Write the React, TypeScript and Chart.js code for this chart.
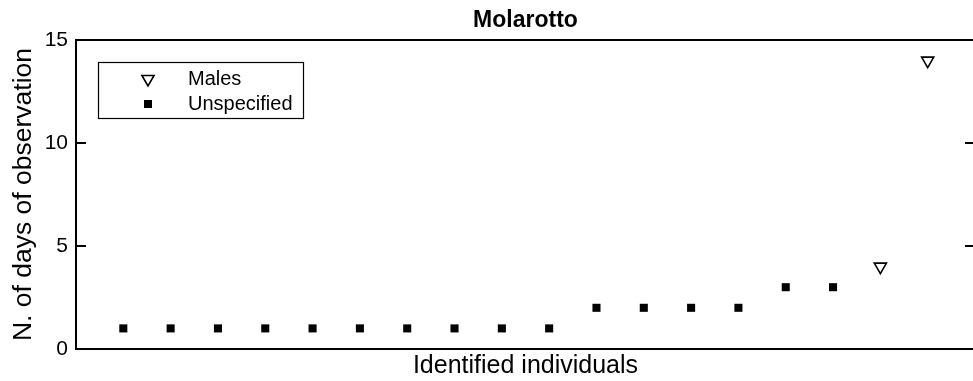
import { useEffect, useRef } from "react";
import { Chart, registerables } from "chart.js";
import { drawPoint } from "chart.js/helpers";

Chart.register(...registerables);

const chartTitle = "Molarotto";
const xAxisTitle = "Identified individuals";
const yAxisTitle = "N. of days of observation";
const yTickValues = [0, 5, 10, 15];

const maleLabel = "Males";
const maleIndividuals = [17, 18];
const maleDays = [4, 14];

const unspecifiedLabel = "Unspecified";
const unspecifiedIndividuals = [1, 2, 3, 4, 5, 6, 7, 8, 9, 10, 11, 12, 13, 14, 15, 16];
const unspecifiedDays = [1, 1, 1, 1, 1, 1, 1, 1, 1, 1, 2, 2, 2, 2, 3, 3];

const FONT = '"Liberation Sans", Arial, Helvetica, sans-serif';

// Axes box with inward tick marks on both vertical sides.
const framePlugin = {
  id: "frame",
  beforeDatasetsDraw(chart: any) {
    const { ctx, chartArea } = chart;
    const { left, right, top, bottom } = chartArea;
    const y = chart.scales.y;
    ctx.save();
    ctx.strokeStyle = "#000";
    ctx.lineWidth = 2;
    ctx.strokeRect(left, top, right - left, bottom - top);
    ctx.lineWidth = 1.8;
    const len = 10;
    yTickValues.forEach((v) => {
      const py = y.getPixelForValue(v);
      ctx.beginPath();
      ctx.moveTo(left, py);
      ctx.lineTo(left + len, py);
      ctx.moveTo(right, py);
      ctx.lineTo(right - len, py);
      ctx.stroke();
    });
    ctx.restore();
  },
};

// Boxed legend drawn inside the upper-left corner of the plot.
const boxedLegendPlugin = {
  id: "boxedLegend",
  afterDraw(chart: any) {
    const { ctx, chartArea } = chart;
    const bx = chartArea.left + 22;
    const by = chartArea.top + 22;
    const bw = 205;
    const bh = 56;
    ctx.save();
    ctx.fillStyle = "#fff";
    ctx.fillRect(bx, by, bw, bh);
    ctx.strokeStyle = "#000";
    ctx.lineWidth = 1.2;
    ctx.strokeRect(bx + 0.5, by + 0.5, bw, bh);
    chart.data.datasets.forEach((ds: any, i: number) => {
      const cy = by + 17 + i * 25;
      ctx.fillStyle = ds.backgroundColor;
      ctx.strokeStyle = ds.borderColor;
      ctx.lineWidth = ds.borderWidth;
      drawPoint(
        ctx,
        {
          pointStyle: ds.pointStyle,
          rotation: ds.pointRotation || 0,
          radius: ds.pointRadius,
          borderWidth: ds.borderWidth,
        },
        bx + 50,
        cy
      );
      ctx.fillStyle = "#000";
      ctx.font = `20px ${FONT}`;
      ctx.textAlign = "left";
      ctx.textBaseline = "middle";
      ctx.fillText(ds.label, bx + 90, cy);
    });
    ctx.restore();
  },
};

export default function App() {
  const canvasRef = useRef<HTMLCanvasElement | null>(null);

  useEffect(() => {
    const canvas = canvasRef.current;
    if (!canvas) return;
    const chart = new Chart(canvas, {
      type: "scatter",
      data: {
        datasets: [
          {
            label: maleLabel,
            data: maleIndividuals.map((x, i) => ({ x, y: maleDays[i] })),
            pointStyle: "triangle",
            pointRotation: 180,
            pointRadius: 7,
            pointHoverRadius: 7,
            backgroundColor: "#fff",
            borderColor: "#000",
            borderWidth: 1.6,
          } as any,
          {
            label: unspecifiedLabel,
            data: unspecifiedIndividuals.map((x, i) => ({ x, y: unspecifiedDays[i] })),
            pointStyle: "rect",
            pointRadius: 5.7,
            pointHoverRadius: 5.7,
            backgroundColor: "#000",
            borderColor: "#000",
            borderWidth: 0,
          } as any,
        ],
      },
      options: {
        responsive: false,
        animation: false,
        events: [],
        layout: { padding: { left: 0, right: 10, top: 0, bottom: 0 } },
        plugins: {
          legend: { display: false },
          tooltip: { enabled: false },
          title: {
            display: true,
            text: chartTitle,
            fullSize: false,
            color: "#000",
            font: { family: FONT, size: 23, weight: "bold", lineHeight: 1.2 },
            padding: { top: 7, bottom: 5.4 },
          },
        },
        scales: {
          x: {
            type: "linear",
            min: 0,
            max: 19,
            grid: { display: false, drawTicks: false },
            border: { display: false },
            ticks: { display: false },
            title: {
              display: true,
              text: xAxisTitle,
              color: "#000",
              font: { family: FONT, size: 25, lineHeight: 1.2 },
              padding: { top: 0, bottom: 0 },
            },
            afterFit(scale: any) {
              scale.height = 32;
            },
          },
          y: {
            type: "linear",
            min: 0,
            max: 15,
            afterBuildTicks(scale: any) {
              scale.ticks = yTickValues.map((value) => ({ value }));
            },
            grid: { display: false, drawTicks: false },
            border: { display: false },
            ticks: {
              color: "#000",
              font: { family: FONT, size: 21 },
              padding: 8,
            },
            title: {
              display: true,
              text: yAxisTitle,
              color: "#000",
              font: { family: FONT, size: 26.5, lineHeight: 1.2 },
              padding: { top: 8, bottom: 0 },
            },
            afterFit(scale: any) {
              scale.width = 76;
            },
          },
        },
      } as any,
      plugins: [framePlugin, boxedLegendPlugin],
    });
    return () => chart.destroy();
  }, []);

  return (
    <div
      style={{
        position: "fixed",
        left: 0,
        top: 0,
        width: 973,
        height: 381,
        overflow: "hidden",
        background: "#fff",
      }}
    >
      <canvas ref={canvasRef} width={985} height={381} style={{ width: 985, height: 381, display: "block" }} />
    </div>
  );
}
